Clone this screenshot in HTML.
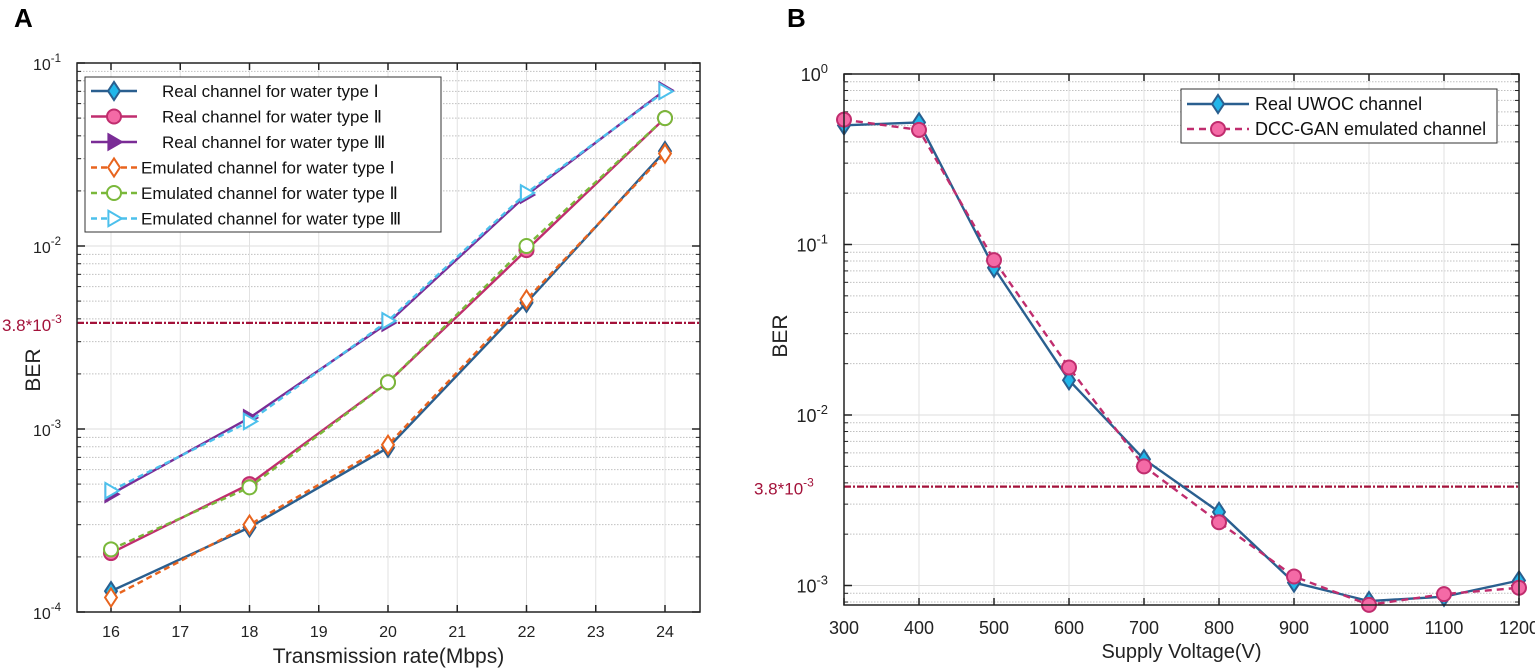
<!DOCTYPE html>
<html><head><meta charset="utf-8"><style>
html,body{margin:0;padding:0;background:#fff;}
svg{display:block;font-family:"Liberation Sans",Arial,sans-serif;}
</style></head><body>
<svg id="chart" width="1535" height="668" viewBox="0 0 1535 668" xmlns="http://www.w3.org/2000/svg"></svg>
<script>
// Panel A data
const aRates = [16, 18, 20, 22, 24];
const aXTicks = [16, 17, 18, 19, 20, 21, 22, 23, 24];
const realI = [1.3e-4, 2.9e-4, 7.9e-4, 4.9e-3, 3.3e-2];
const realII = [2.1e-4, 5.0e-4, 1.8e-3, 9.5e-3, 5.0e-2];
const realIII = [4.4e-4, 1.15e-3, 3.8e-3, 1.9e-2, 7.1e-2];
const emuI = [1.2e-4, 3.0e-4, 8.2e-4, 5.1e-3, 3.2e-2];
const emuII = [2.2e-4, 4.8e-4, 1.8e-3, 1.0e-2, 5.0e-2];
const emuIII = [4.6e-4, 1.1e-3, 3.9e-3, 1.95e-2, 7.0e-2];
const aYExp = [-4, -3, -2, -1];
// Panel B data
const bVolt = [300, 400, 500, 600, 700, 800, 900, 1000, 1100, 1200];
const bXTicks = [300, 400, 500, 600, 700, 800, 900, 1000, 1100, 1200];
const realUWOC = [0.50, 0.52, 0.073, 0.016, 5.5e-3, 2.7e-3, 1.04e-3, 8.1e-4, 8.6e-4, 1.07e-3];
const dccGAN = [0.54, 0.47, 0.081, 0.019, 5.0e-3, 2.35e-3, 1.13e-3, 7.7e-4, 8.9e-4, 9.7e-4];
const bYExp = [-3, -2, -1, 0];
const threshold = 3.8e-3;

const NS = "http://www.w3.org/2000/svg";
const svg = document.getElementById('chart');
function mk(tag, attrs, parent) {
  const e = document.createElementNS(NS, tag);
  for (const k in attrs) e.setAttribute(k, attrs[k]);
  (parent || svg).appendChild(e);
  return e;
}
function txt(s, attrs, parent) { const t = mk('text', attrs, parent); t.textContent = s; return t; }

function marker(g, type, x, y, r, fill, stroke) {
  let m;
  if (type === 'diamond') m = mk('polygon', {points: `${x},${y-r*1.3} ${x+r*0.85},${y} ${x},${y+r*1.3} ${x-r*0.85},${y}`}, g);
  else if (type === 'circle') m = mk('circle', {cx: x, cy: y, r: r}, g);
  else m = mk('polygon', {points: `${x-r*0.8},${y-r*1.1} ${x+r*1.1},${y} ${x-r*0.8},${y+r*1.1}`}, g);
  m.setAttribute('fill', fill); m.setAttribute('stroke', stroke); m.setAttribute('stroke-width', 2);
  return m;
}

function panel(cfg) {
  const g = mk('g', {});
  
  
  const X = v => cfg.x0 + (v - cfg.xv0) * cfg.xs;
  const Y = v => cfg.yTop + (cfg.yTopExp - Math.log10(v)) * cfg.dec;
  const L = cfg.left, R = cfg.right, T = cfg.yTop, B = cfg.bottom;
  const grid = mk('g', {}, g);
  
  
  for (let e = cfg.yExpLo - 1; e <= cfg.yTopExp; e++) {
    for (let m = 1; m <= 9; m++) {
      const v = m * Math.pow(10, e);
      const y = Y(v);
      if (y < T - 0.5 || y > B + 0.5) continue;
      if (m === 1) mk('line', {x1: L, x2: R, y1: y, y2: y, stroke: '#dcdcdc', 'stroke-width': 1}, grid);
      else {
        mk('line', {x1: L, x2: R, y1: y, y2: y, stroke: '#c0c0c0', 'stroke-width': 1, 'stroke-dasharray': '1.5,1.5'}, grid);
        mk('line', {x1: L, x2: L + 4, y1: y, y2: y, stroke: '#222', 'stroke-width': 1}, grid);
        mk('line', {x1: R, x2: R - 4, y1: y, y2: y, stroke: '#222', 'stroke-width': 1}, grid);
      }
    }
  }
  cfg.xTicks.forEach(v => {
    const x = X(v);
    mk('line', {x1: x, x2: x, y1: T, y2: B, stroke: '#e2e2e2', 'stroke-width': 1}, grid);
    mk('line', {x1: x, x2: x, y1: B, y2: B - 7, stroke: '#222', 'stroke-width': 1.5}, grid);
    mk('line', {x1: x, x2: x, y1: T, y2: T + 7, stroke: '#222', 'stroke-width': 1.5}, grid);
    const t = txt(String(v), {x: x, y: B + cfg.tickDy, 'font-size': cfg.tfs, 'text-anchor': 'middle', fill: '#222'}, g);
    
    
  });
  cfg.yExps.forEach(e => {
    const y = Y(Math.pow(10, e));
    mk('line', {x1: L, x2: L + 8, y1: y, y2: y, stroke: '#222', 'stroke-width': 1.5}, grid);
    mk('line', {x1: R, x2: R - 8, y1: y, y2: y, stroke: '#222', 'stroke-width': 1.5}, grid);
    const t = txt('10', {x: L - 16, y: y + 7, 'font-size': cfg.tfs, 'text-anchor': 'end', fill: '#222'}, g);
    const s = mk('tspan', {dy: -8, 'font-size': cfg.tfs * 0.72}, t); s.textContent = String(e);
    
    
  });
  const ty = Y(threshold);
  const th = mk('line', {x1: L, x2: R, y1: ty, y2: ty, stroke: '#a3123a', 'stroke-width': 2.2, 'stroke-dasharray': '7,2,2,2'}, g);
  
  
  const tl = txt('3.8*10', {x: cfg.thX, y: ty + 8, 'font-size': 17, fill: '#a3123a'}, g);
  const ts = mk('tspan', {dy: -8, 'font-size': 12}, tl); ts.textContent = '-3';
  
  
  cfg.series.forEach(s => {
    const sg = mk('g', {}, g);
    
    
    const pts = cfg.xs_vals.map((xv, i) => `${X(xv)},${Y(s.data[i])}`).join(' ');
    const pl = mk('polyline', {points: pts, fill: 'none', stroke: s.color, 'stroke-width': 2.4}, sg);
    if (s.dash) pl.setAttribute('stroke-dasharray', s.dash);
    cfg.xs_vals.forEach((xv, i) => marker(sg, s.marker, X(xv), Y(s.data[i]), 7, s.fill, s.mstroke || s.color));
  });
  const fr = mk('rect', {x: L, y: T, width: R - L, height: B - T, fill: 'none', stroke: '#222', 'stroke-width': 1.5}, g);
  
  
  const lg = mk('g', {}, g);
  
  
  const lb = cfg.legend;
  mk('rect', {x: lb.x, y: lb.y, width: lb.w, height: lb.h, fill: '#fff', stroke: '#333', 'stroke-width': 1}, lg);
  cfg.series.forEach((s, i) => {
    const ey = lb.y + lb.pad + i * lb.step;
    const eg = mk('g', {}, lg);
    
    
    const ln = mk('line', {x1: lb.x + 6, x2: lb.x + 6 + lb.lineW, y1: ey, y2: ey, stroke: s.color, 'stroke-width': 2.4}, eg);
    if (s.dash) ln.setAttribute('stroke-dasharray', s.dash);
    marker(eg, s.marker, lb.x + 6 + lb.lineW / 2, ey, 7, s.fill, s.mstroke || s.color);
    txt(s.label, {x: s.tx !== undefined ? lb.x + s.tx : lb.x + lb.lineW + 12, y: ey + 6, 'font-size': lb.fs, fill: '#111'}, eg);
  });
  const xt = txt(cfg.xTitle, {x: (L + R) / 2, y: B + cfg.xTitleDy, 'font-size': cfg.xfs, 'text-anchor': 'middle', fill: '#222'}, g);
  
  
  const yt = txt('BER', {x: 0, y: 0, 'font-size': cfg.yfs, 'text-anchor': 'middle', fill: '#222', transform: `translate(${cfg.yTitleX},${cfg.yTitleY}) rotate(-90)`}, g);
  
  
  const pl = txt(cfg.label, {x: cfg.labelX, y: 27, 'font-size': 26, 'font-weight': 'bold', fill: '#000'}, g);
  
  
}

panel({
  name: 'panel-a', label: 'A', labelX: 14,
  left: 77, right: 700, yTop: 63, bottom: 612, yTopExp: -1, yExpLo: -4, dec: 183,
  x0: 111, xv0: 16, xs: 69.25, xTicks: aXTicks, yExps: aYExp, xs_vals: aRates,
  tfs: 16, tickDy: 25, xTitleDy: 51, thX: 2, xTitle: 'Transmission rate(Mbps)', xfs: 21, yfs: 21, yTitleX: 40, yTitleY: 370,
  legend: {x: 85, y: 77, w: 356, h: 155, pad: 14, step: 25.5, lineW: 46, fs: 17},
  series: [
    {name: 'series-real-type-1', label: 'Real channel for water type Ⅰ', data: realI, color: '#2a5f8f', fill: '#21b6ea', marker: 'diamond', tx: 77},
    {name: 'series-real-type-2', label: 'Real channel for water type Ⅱ', data: realII, color: '#c02d6e', fill: '#f46aa6', marker: 'circle', tx: 77},
    {name: 'series-real-type-3', label: 'Real channel for water type Ⅲ', data: realIII, color: '#7a2c96', fill: '#7a2c96', marker: 'tri', tx: 77},
    {name: 'series-emulated-type-1', label: 'Emulated channel for water type Ⅰ', data: emuI, color: '#e8641e', fill: '#fff', marker: 'diamond', dash: '6,4', tx: 56},
    {name: 'series-emulated-type-2', label: 'Emulated channel for water type Ⅱ', data: emuII, color: '#7ab83a', fill: '#fff', marker: 'circle', dash: '6,4', tx: 56},
    {name: 'series-emulated-type-3', label: 'Emulated channel for water type Ⅲ', data: emuIII, color: '#4cc0ec', fill: '#fff', marker: 'tri', dash: '6,4', tx: 56}
  ]
});

panel({
  name: 'panel-b', label: 'B', labelX: 787,
  left: 844, right: 1519, yTop: 74, bottom: 605, yTopExp: 0, yExpLo: -3, dec: 170.5,
  x0: 844, xv0: 300, xs: 0.75, xTicks: bXTicks, yExps: bYExp, xs_vals: bVolt,
  tfs: 18, tickDy: 29, xTitleDy: 53, thX: 754, xTitle: 'Supply Voltage(V)', xfs: 20, yfs: 21, yTitleX: 787, yTitleY: 336,
  legend: {x: 1181, y: 89, w: 316, h: 54, pad: 15, step: 25, lineW: 62, fs: 18},
  series: [
    {name: 'series-real-uwoc', label: 'Real UWOC channel', data: realUWOC, color: '#2a5f8f', fill: '#21b6ea', marker: 'diamond', tx: 74},
    {name: 'series-dcc-gan', label: 'DCC-GAN emulated channel', data: dccGAN, color: '#c02d6e', fill: '#f46aa6', marker: 'circle', dash: '7,5', tx: 74}
  ]
});
</script>
</body></html>
